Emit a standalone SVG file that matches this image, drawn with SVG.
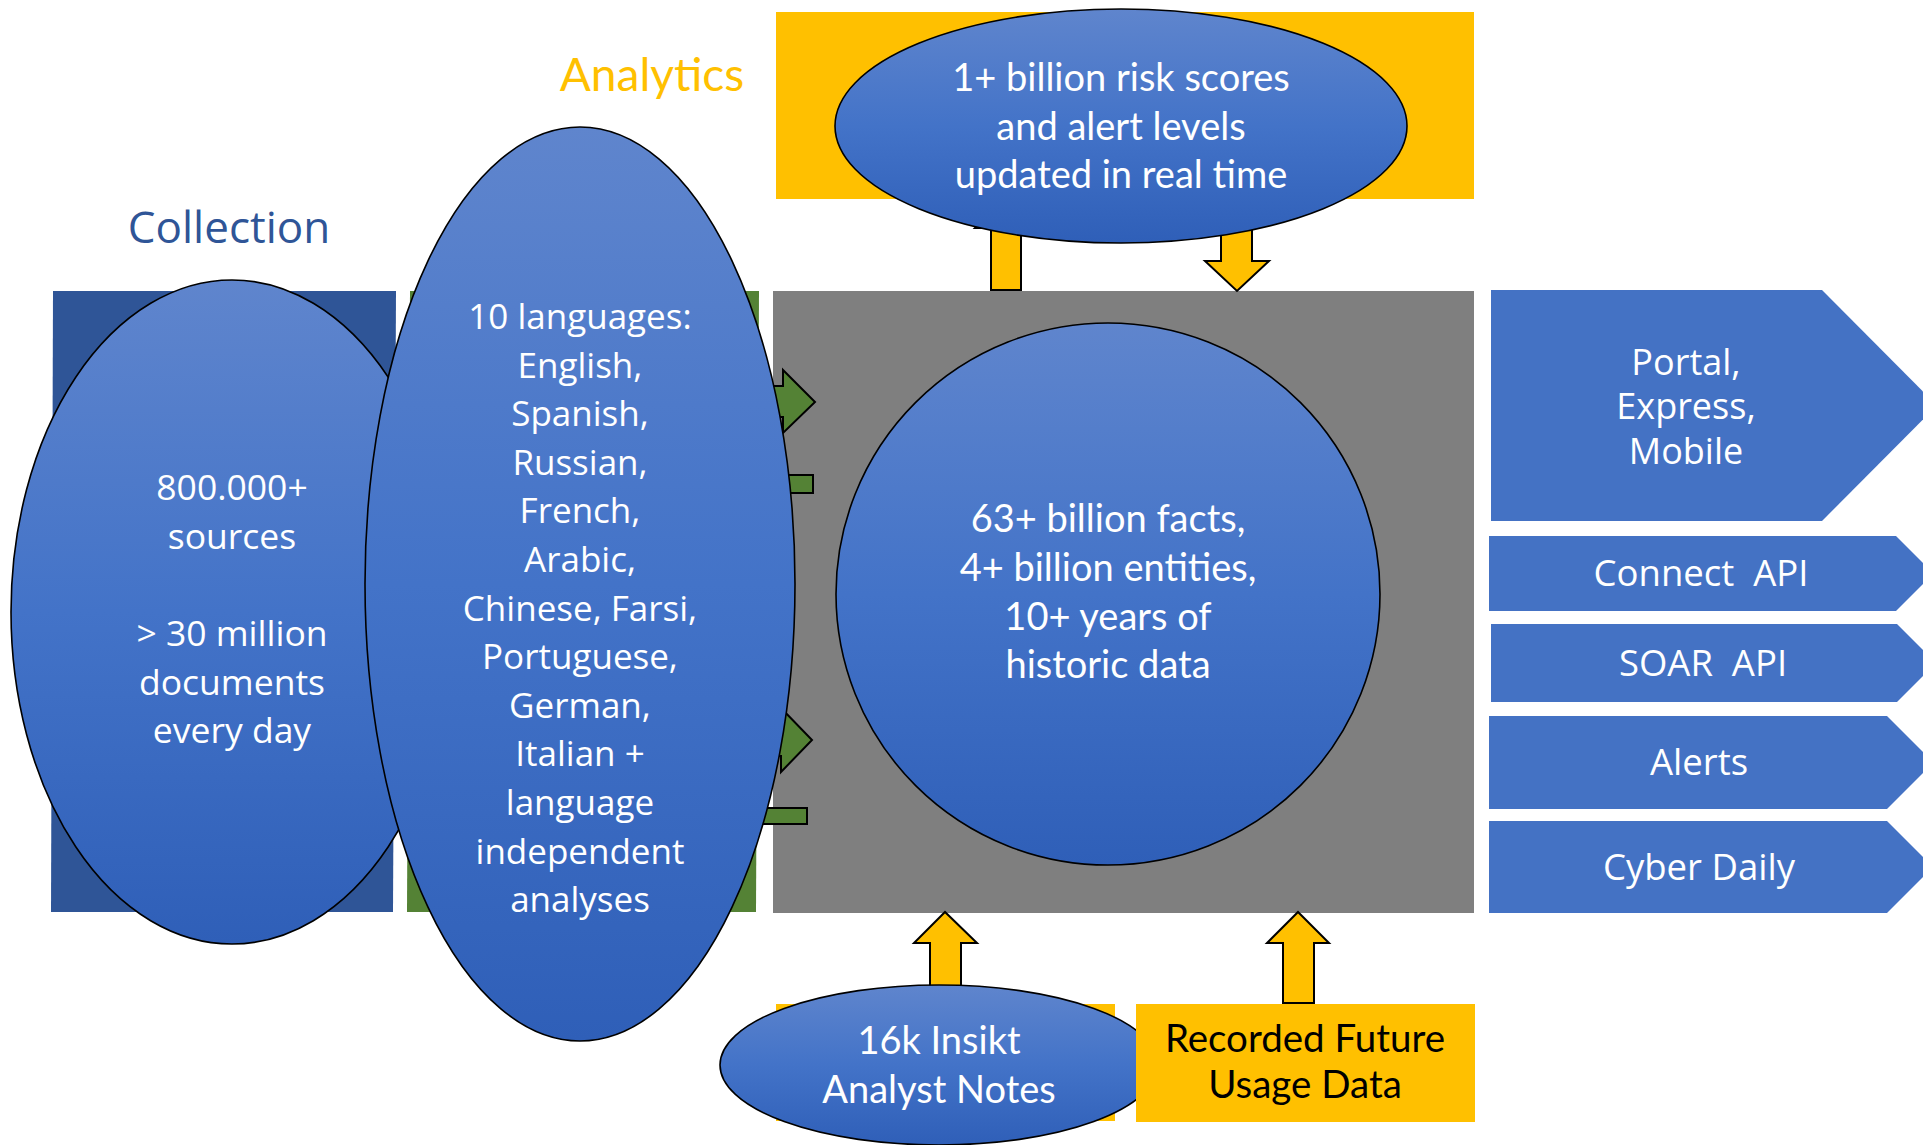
<svg xmlns="http://www.w3.org/2000/svg" width="1923" height="1145" viewBox="0 0 1923 1145">
<defs>
<linearGradient id="blueGrad" x1="0" y1="0" x2="0" y2="1">
<stop offset="0" stop-color="#5F85CD"/>
<stop offset="0.5" stop-color="#4373C8"/>
<stop offset="1" stop-color="#2F5FB8"/>
</linearGradient>
<style>
.ell { fill: url(#blueGrad); stroke: #000; stroke-width: 1.6; }
.seg { font-family: "Open Sans", "Noto Sans", sans-serif; text-anchor: middle; fill: #fff; }
.cal { font-family: Lato, "Liberation Sans", sans-serif; text-anchor: middle; fill: #fff; }
.yarrow { fill: #FFC000; stroke: #000; stroke-width: 2; }
.garrow { fill: #548235; stroke: #000; stroke-width: 2; }
.out { fill: #4472C4; }
.pre { white-space: pre; }
</style>
</defs>
<rect width="1923" height="1145" fill="#fff"/>

<g id="titles">
<text class="seg" x="229" y="243" font-size="44" style="fill:#2F5597">Collection</text>
<text class="cal" x="652" y="91" font-size="46" style="fill:#FFC000">Analytics</text>
</g>

<g id="backgrounds">
<polygon id="collection-box" points="53,291 396,291 393,912 51,912" fill="#2F5597"/>
<polygon id="processing-box" points="410,291 759,291 756,912 407,912" fill="#548235"/>
<rect id="core-box" x="773" y="291" width="701" height="622" fill="#7F7F7F"/>
<rect id="analytics-box" x="776" y="12" width="698" height="187" fill="#FFC000"/>
<rect id="insikt-box" x="776" y="1004" width="339" height="117" fill="#FFC000"/>
</g>

<g id="connectors">
<path class="garrow" d="M700,386 H783 V370 L815,402 L783,433 V417 H700 Z"/>
<rect class="garrow" x="700" y="475" width="113" height="18"/>
<path class="garrow" d="M700,724 H781 V708 L812,740 L781,772 V756 H700 Z"/>
<rect class="garrow" x="680" y="808" width="127" height="16"/>
<path class="yarrow" d="M991,290 V228 H975 L1006,196 L1037,228 H1021 V290 Z"/>
<path class="yarrow" d="M1221,225 V261 H1205 L1237,291 L1269,261 H1252 V225 Z"/>
<path class="yarrow" d="M930,1000 V943 H914 L945,912 L977,943 H961 V1000 Z"/>
<path class="yarrow" d="M1283,1003 V943 H1267 L1298,912 L1329,943 H1314 V1003 Z"/>
</g>

<g id="node-sources">
<ellipse class="ell" cx="232" cy="612" rx="221" ry="332"/>
<text class="seg" font-size="35.5" x="232" y="500">800.000+</text>
<text class="seg" font-size="35.5" x="232" y="549">sources</text>
<text class="seg" font-size="35.5" x="232" y="646">&gt; 30 million</text>
<text class="seg" font-size="35.5" x="232" y="695">documents</text>
<text class="seg" font-size="35.5" x="232" y="743">every day</text>
</g>

<g id="node-languages">
<ellipse class="ell" cx="580" cy="584" rx="215" ry="457"/>
<text class="seg" font-size="35" x="580" y="329">10 languages:</text>
<text class="seg" font-size="35" x="580" y="378">English,</text>
<text class="seg" font-size="35" x="580" y="426">Spanish,</text>
<text class="seg" font-size="35" x="580" y="475">Russian,</text>
<text class="seg" font-size="35" x="580" y="523">French,</text>
<text class="seg" font-size="35" x="580" y="572">Arabic,</text>
<text class="seg" font-size="35" x="580" y="621">Chinese, Farsi,</text>
<text class="seg" font-size="35" x="580" y="669">Portuguese,</text>
<text class="seg" font-size="35" x="580" y="718">German,</text>
<text class="seg" font-size="35" x="580" y="766">Italian +</text>
<text class="seg" font-size="35" x="580" y="815">language</text>
<text class="seg" font-size="35" x="580" y="864">independent</text>
<text class="seg" font-size="35" x="580" y="912">analyses</text>
</g>

<g id="node-core">
<ellipse class="ell" cx="1108" cy="594" rx="272" ry="271"/>
<text class="cal" font-size="38" x="1108" y="532">63+ billion facts,</text>
<text class="cal" font-size="38" x="1108" y="581">4+ billion entities,</text>
<text class="cal" font-size="38" x="1108" y="630">10+ years of</text>
<text class="cal" font-size="38" x="1108" y="678">historic data</text>
</g>

<g id="node-risk">
<ellipse class="ell" cx="1121" cy="126" rx="286" ry="117"/>
<text class="cal" font-size="38" x="1121" y="91">1+ billion risk scores</text>
<text class="cal" font-size="38" x="1121" y="140">and alert levels</text>
<text class="cal" font-size="38" x="1121" y="188">updated in real time</text>
</g>

<g id="node-insikt">
<ellipse class="ell" cx="939" cy="1065" rx="219" ry="80"/>
<text class="cal" font-size="38" x="939" y="1054">16k Insikt</text>
<text class="cal" font-size="38" x="939" y="1103">Analyst Notes</text>
</g>

<g id="node-usage">
<rect x="1136" y="1004" width="339" height="118" fill="#FFC000"/>
<text class="cal" font-size="38.5" x="1305" y="1052" style="fill:#000">Recorded Future</text>
<text class="cal" font-size="38.5" x="1305" y="1098" style="fill:#000">Usage Data</text>
</g>

<g id="node-portal">
<polygon class="out" points="1491,290 1822,290 1937,405.5 1822,521 1491,521"/>
<text class="seg" font-size="36" x="1686" y="375">Portal,</text>
<text class="seg" font-size="36" x="1686" y="419">Express,</text>
<text class="seg" font-size="36" x="1686" y="464">Mobile</text>
</g>
<g id="node-connect">
<polygon class="out" points="1489,536 1896,536 1933.5,573.5 1896,611 1489,611"/>
<text class="seg pre" font-size="36.5" x="1701" y="586">Connect  API</text>
</g>
<g id="node-soar">
<polygon class="out" points="1491,624 1897,624 1936,663 1897,702 1491,702"/>
<text class="seg pre" font-size="36.5" x="1703" y="676">SOAR  API</text>
</g>
<g id="node-alerts">
<polygon class="out" points="1489,716 1887,716 1933.5,762.5 1887,809 1489,809"/>
<text class="seg" font-size="36.5" x="1699" y="775">Alerts</text>
</g>
<g id="node-cyberdaily">
<polygon class="out" points="1489,821 1887,821 1933,867 1887,913 1489,913"/>
<text class="seg" font-size="36.5" x="1699" y="880">Cyber Daily</text>
</g>
</svg>
